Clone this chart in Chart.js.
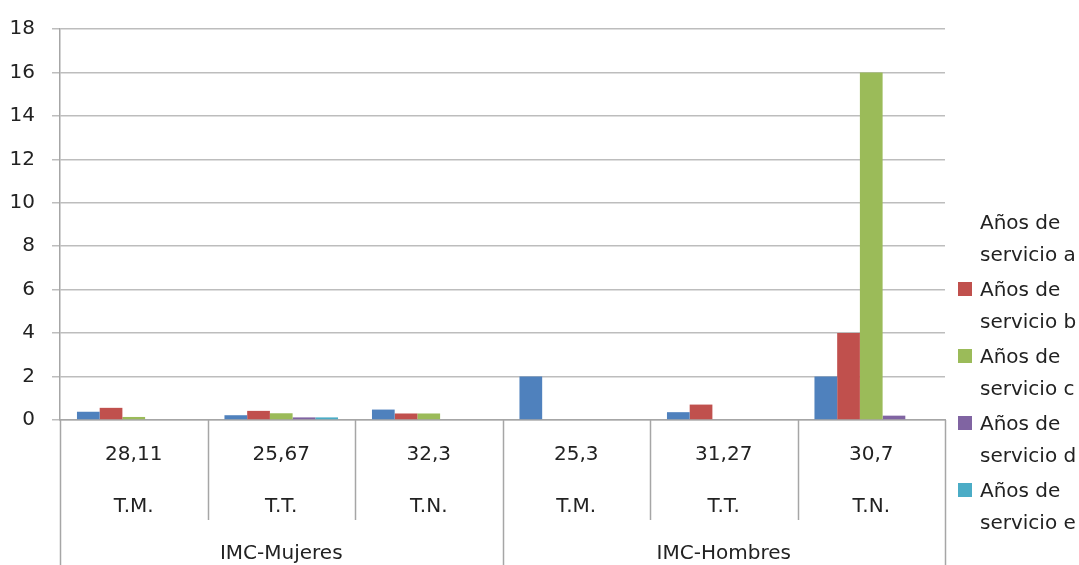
<!DOCTYPE html>
<html>
<head>
<meta charset="utf-8">
<script src="https://cdn.jsdelivr.net/npm/chart.js@4/dist/chart.umd.min.js"></script>
<style>
  html, body { margin: 0; padding: 0; background: #ffffff; }
  #wrap { position: relative; width: 1079px; height: 565px; }
  #legend { position: absolute; left: 958px; top: 206px; font-family: "DejaVu Sans", sans-serif; font-size: 20px; color: #222; }
  .item { position: relative; height: 67px; }
  .sw { position: absolute; left: 0; top: 9px; width: 14px; height: 14px; }
  .txt { position: absolute; left: 22px; top: 0; line-height: 32px; white-space: nowrap; }
</style>
</head>
<body>
<div id="wrap">
  <canvas id="c" width="1079" height="565"></canvas>
  <div id="legend"></div>
</div>
<script>
// ---- data ----
const valueLabels = ['28,11', '25,67', '32,3', '25,3', '31,27', '30,7'];
const shiftLabels = ['T.M.', 'T.T.', 'T.N.', 'T.M.', 'T.T.', 'T.N.'];
const groupLabels = ['IMC-Mujeres', 'IMC-Hombres'];
const seriesNames = ['Años de servicio a', 'Años de servicio b', 'Años de servicio c', 'Años de servicio d', 'Años de servicio e'];
const serviceA = [0.38, 0.22, 0.48, 2, 0.36, 2];
const serviceB = [0.56, 0.42, 0.3, 0, 0.71, 4];
const serviceC = [0.14, 0.31, 0.3, 0, 0, 16];
const serviceD = [0, 0.12, 0, 0, 0, 0.2];
const serviceE = [0, 0.12, 0, 0, 0, 0];
const yTicks = [0, 2, 4, 6, 8, 10, 12, 14, 16, 18];

// ---- styles ----
const colors = ['#4F81BD', '#C0504D', '#9BBB59', '#8064A2', '#4BACC6'];
const FONT = '"DejaVu Sans", sans-serif';
const seriesValues = [serviceA, serviceB, serviceC, serviceD, serviceE];

const dividerPlugin = {
  id: 'dividers',
  afterDraw(chart) {
    const xs = chart.scales.x;
    const ca = chart.chartArea;
    const n = valueLabels.length;
    const perGroup = n / groupLabels.length;
    const w = (xs.right - xs.left) / n;
    const ctx = chart.ctx;
    ctx.save();
    ctx.strokeStyle = '#a6a6a6';
    ctx.lineWidth = 1.5;
    for (let i = 0; i <= n; i++) {
      const x = Math.round(xs.left + i * w) + 0.5;
      const yEnd = (i % perGroup === 0) ? chart.height : ca.bottom + 100;
      ctx.beginPath();
      ctx.moveTo(x, ca.bottom);
      ctx.lineTo(x, yEnd);
      ctx.stroke();
    }
    ctx.restore();
  }
};

const chart = new Chart(document.getElementById('c'), {
  type: 'bar',
  data: {
    labels: valueLabels.map((v, i) => [v, shiftLabels[i]]),
    datasets: seriesNames.map((name, i) => ({
      label: name,
      data: seriesValues[i],
      backgroundColor: colors[i],
      borderWidth: 0,
      categoryPercentage: 0.77,
      barPercentage: 1.0
    }))
  },
  options: {
    responsive: false,
    animation: false,
    layout: { padding: { left: 10, right: 134, top: 25, bottom: 0 } },
    plugins: { legend: { display: false }, tooltip: { enabled: false } },
    scales: {
      x: {
        position: 'bottom',
        grid: { display: false, drawTicks: false },
        border: { display: true, color: '#a6a6a6', width: 1.5 },
        afterFit(scale) { scale.height = 111; },
        ticks: {
          autoSkip: false, maxRotation: 0, padding: 9, color: '#222',
          font: { family: FONT, size: 20, lineHeight: '52px' }
        }
      },
      x2: {
        type: 'category',
        position: 'bottom',
        labels: groupLabels,
        offset: true,
        grid: { display: false, drawTicks: false },
        border: { display: false },
        afterFit(scale) { scale.height = 34; },
        ticks: {
          autoSkip: false, maxRotation: 0, padding: 11, color: '#222',
          font: { family: FONT, size: 20, lineHeight: 1.2 }
        }
      },
      y: {
        min: 0, max: 18,
        afterBuildTicks(scale) { scale.ticks = yTicks.map(v => ({ value: v })); },
        afterFit(scale) { scale.width = 50; },
        grid: { color: '#bdbdbd', lineWidth: 1.5, tickLength: 8, drawTicks: true, tickColor: '#bdbdbd' },
        border: { display: true, color: '#a6a6a6', width: 1.5 },
        ticks: { padding: 17, color: '#222', font: { family: FONT, size: 20 } }
      }
    }
  },
  plugins: [dividerPlugin]
});

// ---- legend (HTML) ----
const legend = document.getElementById('legend');
seriesNames.forEach((name, i) => {
  const item = document.createElement('div');
  item.className = 'item';
  const sw = document.createElement('div');
  sw.className = 'sw';
  // the first series has no visible swatch in the reference
  sw.style.background = i === 0 ? 'transparent' : colors[i];
  const txt = document.createElement('div');
  txt.className = 'txt';
  const parts = name.split(' ');
  txt.innerHTML = parts.slice(0, 2).join(' ') + '<br>' + parts.slice(2).join(' ');
  item.appendChild(sw);
  item.appendChild(txt);
  legend.appendChild(item);
});
</script>
</body>
</html>
